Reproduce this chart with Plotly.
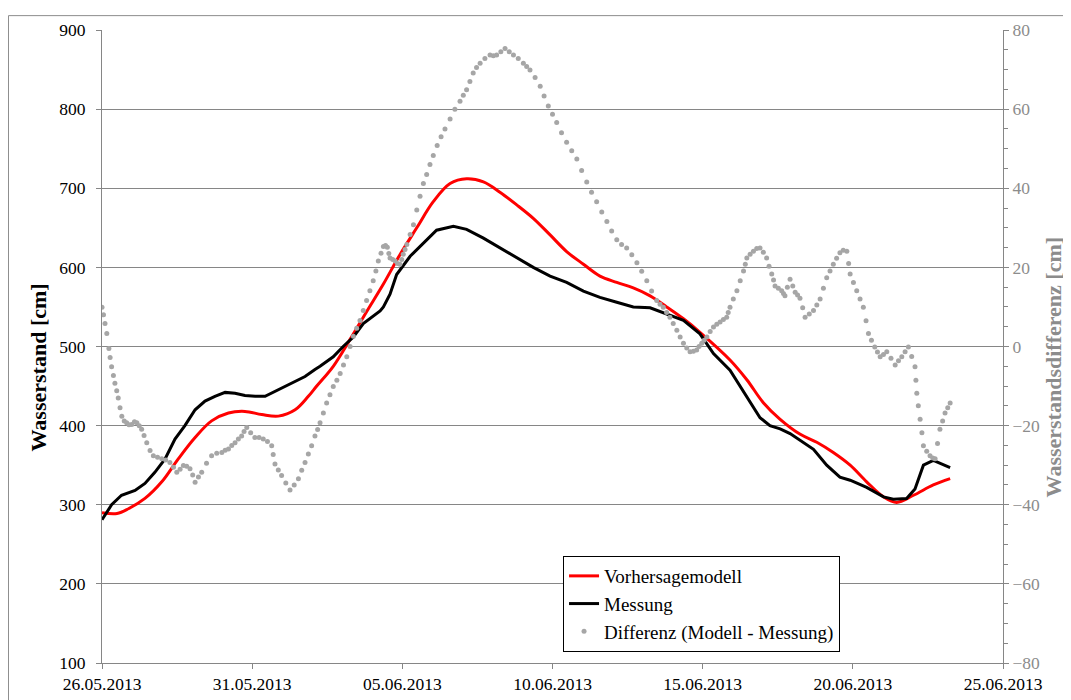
import pandas as pd
import plotly.graph_objects as go

START = pd.Timestamp("2013-05-26")

# Vorhersagemodell (Wasserstand in cm), Zeit in Tagen ab 26.05.2013
model_days = [0, 0.5, 0.88, 1.43, 1.99, 2.54, 3.10, 3.65, 4.21, 4.76, 5.32, 5.87, 6.43, 6.87,
              7.15, 7.70, 8.26, 8.81, 9.37, 9.92, 10.48, 11.03, 11.59, 12.14, 12.70, 13.25,
              13.81, 14.36, 14.92, 15.47, 16.03, 16.58, 17.14, 17.69, 18.25, 18.80, 19.36,
              19.91, 20.91, 21.47, 22.02, 22.58, 23.25, 23.80, 24.35, 24.91, 25.46, 26.02,
              26.46, 27.02, 27.68, 28.24]
model_cm = [290, 289, 295, 308, 329, 358, 385, 406, 416, 418, 414, 412, 420, 437,
            450, 475, 509, 544, 579, 616, 650, 683, 706, 712, 708, 695,
            679, 662, 641, 620, 604, 589, 581, 574, 564, 550, 535,
            518, 483, 458, 429, 408, 389, 379, 366, 350, 329, 310,
            303, 312, 325, 333]

# Messung (Wasserstand in cm)
meas_days = [0, 0.32, 0.65, 1.10, 1.43, 1.76, 2.10, 2.43, 2.76, 3.10, 3.43, 3.76, 4.10, 4.43,
             4.76, 5.10, 5.43, 5.76, 6.09, 6.43, 6.76, 7.09, 7.26, 7.70, 8.03, 8.37, 8.70,
             9.26, 9.37, 9.59, 9.81, 10.26, 10.70, 11.14, 11.70, 12.14, 12.70, 13.25, 13.81,
             14.36, 14.92, 15.47, 16.03, 16.58, 17.14, 17.69, 18.25, 18.80, 19.36, 19.91,
             20.36, 20.91, 21.47, 21.91, 22.24, 22.58, 22.91, 23.25, 23.69, 24.13, 24.57,
             24.91, 25.46, 26.02, 26.35, 26.79, 27.07, 27.35, 27.68, 28.24]
meas_cm = [281, 300, 312, 318, 327, 341, 358, 383, 400, 420, 431, 437, 442, 441,
           438, 437, 437, 443, 449, 456, 462, 471, 475, 487, 500, 512, 529,
           545, 550, 566, 591, 614, 631, 647, 652, 648, 637, 625, 612,
           600, 589, 581, 570, 562, 556, 550, 549, 541, 533, 516,
           491, 470, 437, 410, 400, 396, 390, 381, 370, 350, 335,
           331, 322, 310, 307, 308, 320, 350, 356, 347]

# Differenz (Modell - Messung) in cm
diff_days = [
    0.00, 0.05, 0.10, 0.16, 0.23, 0.27, 0.32, 0.38, 0.43, 0.49, 0.54, 0.60, 0.66, 0.74, 0.82,
    0.90, 0.99, 1.08, 1.16, 1.24, 1.32, 1.40, 1.49, 1.60, 1.71, 1.85, 1.99, 2.12, 2.26, 2.38,
    2.49, 2.60, 2.71, 2.82, 2.93, 3.02, 3.10, 3.21, 3.32, 3.48, 3.65, 3.82, 3.99, 4.10, 4.21,
    4.32, 4.43, 4.54, 4.65, 4.73, 4.82, 4.95, 5.09, 5.23, 5.37, 5.51, 5.65, 5.70, 5.76, 5.87,
    5.98, 6.12, 6.26, 6.40, 6.54, 6.65, 6.76, 6.87, 6.98, 7.09, 7.18, 7.26, 7.37, 7.48, 7.59,
    7.70, 7.82, 7.93, 8.04, 8.15, 8.26, 8.37, 8.48, 8.59, 8.70, 8.81, 8.92, 9.03, 9.12, 9.20,
    9.29, 9.37, 9.44, 9.50, 9.55, 9.59, 9.68, 9.76, 9.84, 9.92, 9.98, 10.03, 10.09, 10.15,
    10.26, 10.37, 10.48, 10.59, 10.70, 10.81, 10.92, 11.03, 11.16, 11.29, 11.42, 11.59, 11.75,
    11.92, 12.03, 12.14, 12.25, 12.36, 12.47, 12.59, 12.75, 12.92, 13.03, 13.14, 13.28, 13.42,
    13.56, 13.70, 13.86, 14.03, 14.14, 14.25, 14.42, 14.59, 14.72, 14.86, 15.00, 15.14, 15.30,
    15.47, 15.64, 15.81, 15.97, 16.14, 16.30, 16.47, 16.64, 16.81, 16.97, 17.14, 17.30, 17.47,
    17.64, 17.81, 17.97, 18.14, 18.30, 18.47, 18.58, 18.69, 18.80, 18.91, 19.02, 19.14, 19.25,
    19.36, 19.47, 19.58, 19.69, 19.80, 19.88, 19.97, 20.05, 20.14, 20.25, 20.36, 20.47, 20.58,
    20.69, 20.80, 20.85, 20.91, 21.02, 21.14, 21.25, 21.36, 21.42, 21.47, 21.58, 21.69, 21.80,
    21.91, 22.02, 22.13, 22.21, 22.30, 22.36, 22.41, 22.52, 22.63, 22.69, 22.74, 22.82, 22.91,
    23.00, 23.08, 23.16, 23.24, 23.33, 23.41, 23.55, 23.69, 23.80, 23.91, 24.02, 24.13, 24.24,
    24.35, 24.46, 24.57, 24.68, 24.80, 24.86, 24.91, 25.02, 25.13, 25.24, 25.35, 25.44, 25.52,
    25.62, 25.73, 25.82, 25.91, 26.02, 26.13, 26.27, 26.41, 26.52, 26.63, 26.74, 26.85, 26.96,
    27.07, 27.10, 27.13, 27.18, 27.24, 27.30, 27.35, 27.46, 27.57, 27.66, 27.74, 27.82, 27.90,
    27.99, 28.07, 28.16, 28.24]
diff_cm = [
    9.9, 8.0, 5.8, 3.3, -0.5, -2.8, -5.1, -7.3, -9.3, -11.2, -13.0, -15.5, -17.6, -18.8, -19.3,
    -19.8, -19.7, -19.0, -19.3, -20.0, -20.9, -22.5, -24.3, -26.3, -27.6, -28.0, -28.4, -28.7, -29.3, -30.5,
    -31.8, -31.0, -30.1, -30.3, -30.9, -32.5, -34.3, -33.0, -31.8, -29.5, -27.6, -27.0, -26.8, -26.2, -25.9,
    -25.0, -24.3, -23.4, -22.6, -21.5, -20.5, -21.8, -23.0, -23.0, -23.4, -24.0, -25.1, -27.3, -29.7, -31.2,
    -32.6, -34.5, -36.3, -35.0, -33.4, -31.3, -29.3, -27.2, -25.1, -22.6, -21.0, -19.3, -16.8, -14.3, -12.2,
    -10.1, -8.5, -6.8, -4.7, -2.6, 0.0, 2.6, 4.6, 6.6, 9.1, 11.6, 14.1, 16.6, 19.1, 21.6,
    23.6, 25.3, 25.5, 25.1, 23.5, 22.4, 22.0, 21.6, 21.0, 20.8, 22.0, 23.3, 24.5, 25.8,
    28.3, 30.8, 34.5, 38.0, 41.2, 43.5, 46.0, 48.3, 50.8, 53.0, 55.0, 57.5, 60.0,
    62.0, 63.5, 64.9, 67.0, 69.1, 70.5, 71.6, 72.8, 73.7, 73.5, 73.7, 74.5, 75.3,
    74.5, 73.7, 72.8, 71.6, 70.8, 69.9, 68.0, 65.8, 63.3, 60.8, 58.7, 56.6, 54.0,
    51.6, 49.5, 47.4, 44.5, 41.6, 39.0, 36.6, 34.0, 31.6, 29.2, 27.0, 25.8, 24.9,
    23.2, 21.2, 19.0, 16.6, 14.0, 11.6, 10.7, 9.9, 8.6, 7.4, 5.8, 4.1, 2.4,
    0.8, -0.4, -1.3, -1.2, -0.9, 0.0, 0.8, 1.6, 2.4, 3.8, 4.9, 5.6, 6.2,
    6.8, 7.4, 8.6, 9.9, 12.0, 14.1, 16.6, 19.1, 20.8, 22.4, 23.3, 24.1, 24.8,
    24.9, 23.8, 22.4, 20.3, 18.3, 16.8, 15.3, 14.7, 14.1, 13.4, 12.8, 15.0, 17.0,
    15.3, 13.7, 13.0, 12.2, 9.8, 7.4, 8.2, 9.1, 10.5, 12.0, 14.7, 17.4, 19.1,
    20.8, 22.3, 23.7, 24.3, 24.1, 21.0, 18.3, 16.2, 14.1, 12.0, 9.9, 6.5, 3.3,
    1.6, -0.1, -1.4, -2.6, -2.0, -1.3, -3.0, -4.7, -3.6, -2.6, -1.3, -0.1, -2.5,
    -5.1, -8.5, -11.8, -15.0, -18.4, -21.8, -25.1, -26.5, -27.6, -28.2, -28.4, -24.5, -20.9,
    -18.8, -16.8, -15.5, -14.3]


def to_time(days):
    return START + pd.to_timedelta(days, unit="D")


FONT = "Liberation Serif, Times New Roman, serif"
AXIS_GREY = "#868686"
TEXT_GREY = "#8c8c8c"

fig = go.Figure()
fig.add_trace(go.Scatter(
    x=to_time(model_days), y=model_cm, name="Vorhersagemodell",
    mode="lines", line=dict(color="#ff0000", width=3, shape="spline"),
))
fig.add_trace(go.Scatter(
    x=to_time(meas_days), y=meas_cm, name="Messung",
    mode="lines", line=dict(color="#000000", width=3),
))
fig.add_trace(go.Scatter(
    x=to_time(diff_days), y=diff_cm, name="Differenz (Modell - Messung)",
    mode="markers", marker=dict(color="#a6a6a6", size=5), yaxis="y2",
))

# the page body has an 8px margin, so the margins are shifted by 8px
fig.update_layout(
    width=1071, height=700,
    margin=dict(l=94, r=76, t=15, b=45),
    paper_bgcolor="white", plot_bgcolor="white",
    font=dict(family=FONT, size=17.5, color="black"),
    showlegend=True,
    legend=dict(
        x=0.5117, y=0.169, xanchor="left", yanchor="top",
        bgcolor="white", bordercolor="black", borderwidth=1,
        font=dict(family=FONT, size=19, color="black"),
        tracegroupgap=0, itemwidth=30,
    ),
    xaxis=dict(
        type="date",
        range=[START, START + pd.Timedelta(days=30)],
        tick0=START, dtick=5 * 86400000, tickformat="%d.%m.%Y",
        showgrid=False, zeroline=False,
        showline=True, linecolor=AXIS_GREY, linewidth=1,
        ticks="outside", ticklen=5, tickcolor=AXIS_GREY,
        tickfont=dict(family=FONT, size=17.5, color="black"),
    ),
    yaxis=dict(
        range=[100, 900], dtick=100,
        showgrid=True, gridcolor=AXIS_GREY, gridwidth=1, zeroline=False,
        showline=True, linecolor=AXIS_GREY, linewidth=1,
        ticks="outside", ticklen=5, tickcolor=AXIS_GREY,
        ticklabelstandoff=7,
        tickfont=dict(family=FONT, size=17.5, color="black"),
    ),
    yaxis2=dict(
        range=[-80, 80], dtick=20, overlaying="y", side="right",
        showgrid=False, zeroline=False,
        showline=True, linecolor=AXIS_GREY, linewidth=1,
        ticks="outside", ticklen=5, tickcolor=AXIS_GREY,
        minor=dict(dtick=5, ticks="outside", ticklen=4, tickcolor=AXIS_GREY),
        tickfont=dict(family=FONT, size=17.5, color=TEXT_GREY),
    ),
    annotations=[
        dict(text="<b>Wasserstand [cm]</b>", xref="paper", yref="paper",
             x=-0.071, y=0.467, xanchor="center", yanchor="middle",
             textangle=-90, showarrow=False,
             font=dict(family=FONT, size=22, color="black")),
        dict(text="<b>Wasserstandsdifferenz [cm]</b>", xref="paper", yref="paper",
             x=1.0555, y=0.467, xanchor="center", yanchor="middle",
             textangle=-90, showarrow=False,
             font=dict(family=FONT, size=22, color=TEXT_GREY)),
    ],
    shapes=[
        dict(type="rect", xref="paper", yref="paper",
             x0=-0.1038, x1=1.1, y0=-0.1, y1=1.0227,
             line=dict(color=TEXT_GREY, width=1), layer="below"),
    ],
)

fig.write_html("out.html")
